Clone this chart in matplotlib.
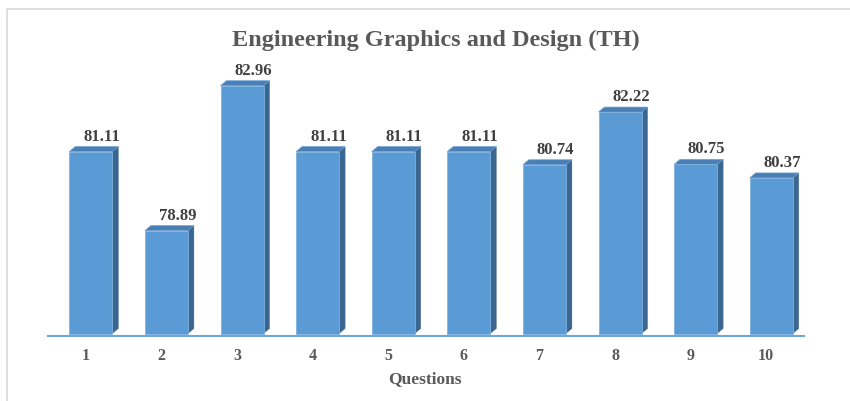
import numpy as np
import matplotlib
matplotlib.use("Agg")
import matplotlib.pyplot as plt
from matplotlib.patches import Polygon, Rectangle

# data
questions = ["1", "2", "3", "4", "5", "6", "7", "8", "9", "10"]
scores = [81.11, 78.89, 82.96, 81.11, 81.11, 81.11, 80.74, 82.22, 80.75, 80.37]
base = 76.0

W, H = 850, 402
fig = plt.figure(figsize=(W / 100, H / 100), dpi=100)
plt.rcParams['font.family'] = ['Liberation Serif', 'DejaVu Serif']

# axes placed in pixel terms
left, right, top, bottom = 48, 804, 70, 337
ax = fig.add_axes([left / W, (H - bottom) / H, (right - left) / W, (bottom - top) / H])
ax.set_xlim(-0.5, 9.5)
ax.set_ylim(75.93, 83.43)

px_x = (right - left) / 10.0          # pixels per category
px_y = (bottom - top) / (83.43 - 75.93)  # pixels per value unit

front = '#5B9BD5'
side = '#3B6690'
topc = '#4A7FB6'
off = 5 / px_x
w = 43 / px_x
dx = 6 / px_x
dy = 5 / px_y

x = np.arange(len(scores))
ax.bar(x + off, np.array(scores) - base, bottom=base, width=w, color=front,
       edgecolor='#7FB1DF', linewidth=0.6, zorder=3)

for i, v in enumerate(scores):
    x0 = i + off - w / 2
    x1 = i + off + w / 2
    # side face
    ax.add_patch(Polygon([(x1, base), (x1 + dx, base + dy), (x1 + dx, v + dy), (x1, v)],
                         closed=True, facecolor=side, edgecolor=side, lw=0.3, zorder=2))
    # top face
    ax.add_patch(Polygon([(x0, v), (x1, v), (x1 + dx, v + dy), (x0 + dx, v + dy)],
                         closed=True, facecolor=topc, edgecolor='#6A9FD3', lw=0.5, zorder=2))
    ax.annotate("%.2f" % v, xy=(i + off, v), xytext=(11, 16), textcoords='offset pixels',
                ha='center', va='center', fontsize=12, fontweight='bold', color='#404040')

for s in ['top', 'right', 'left']:
    ax.spines[s].set_visible(False)
ax.spines['bottom'].set_color('#6FA6DA')
ax.spines['bottom'].set_linewidth(1.5)
ax.set_yticks([])
ax.set_xticks(x)
ax.set_xticklabels(questions, fontsize=11.5, fontweight='bold', color='#595959')
ax.tick_params(axis='x', length=0, pad=8)
ax.set_facecolor('none')

fig.text(436 / W, 1 - 40 / H, "Engineering Graphics and Design (TH)", ha='center', va='center',
         fontsize=17.5, fontweight='bold', color='#595959')
fig.text(425 / W, 1 - 379 / H, "Questions", ha='center', va='center',
         fontsize=12.5, fontweight='bold', color='#595959')

# chart area border (cut off at right and bottom)
fig.patches.append(Rectangle((6.5 / W, -0.1), 1.2, 1.1 - 9.5 / H, transform=fig.transFigure,
                             fill=False, edgecolor='#D9D9D9', lw=1.2))

fig.savefig("out.png", dpi=100)
